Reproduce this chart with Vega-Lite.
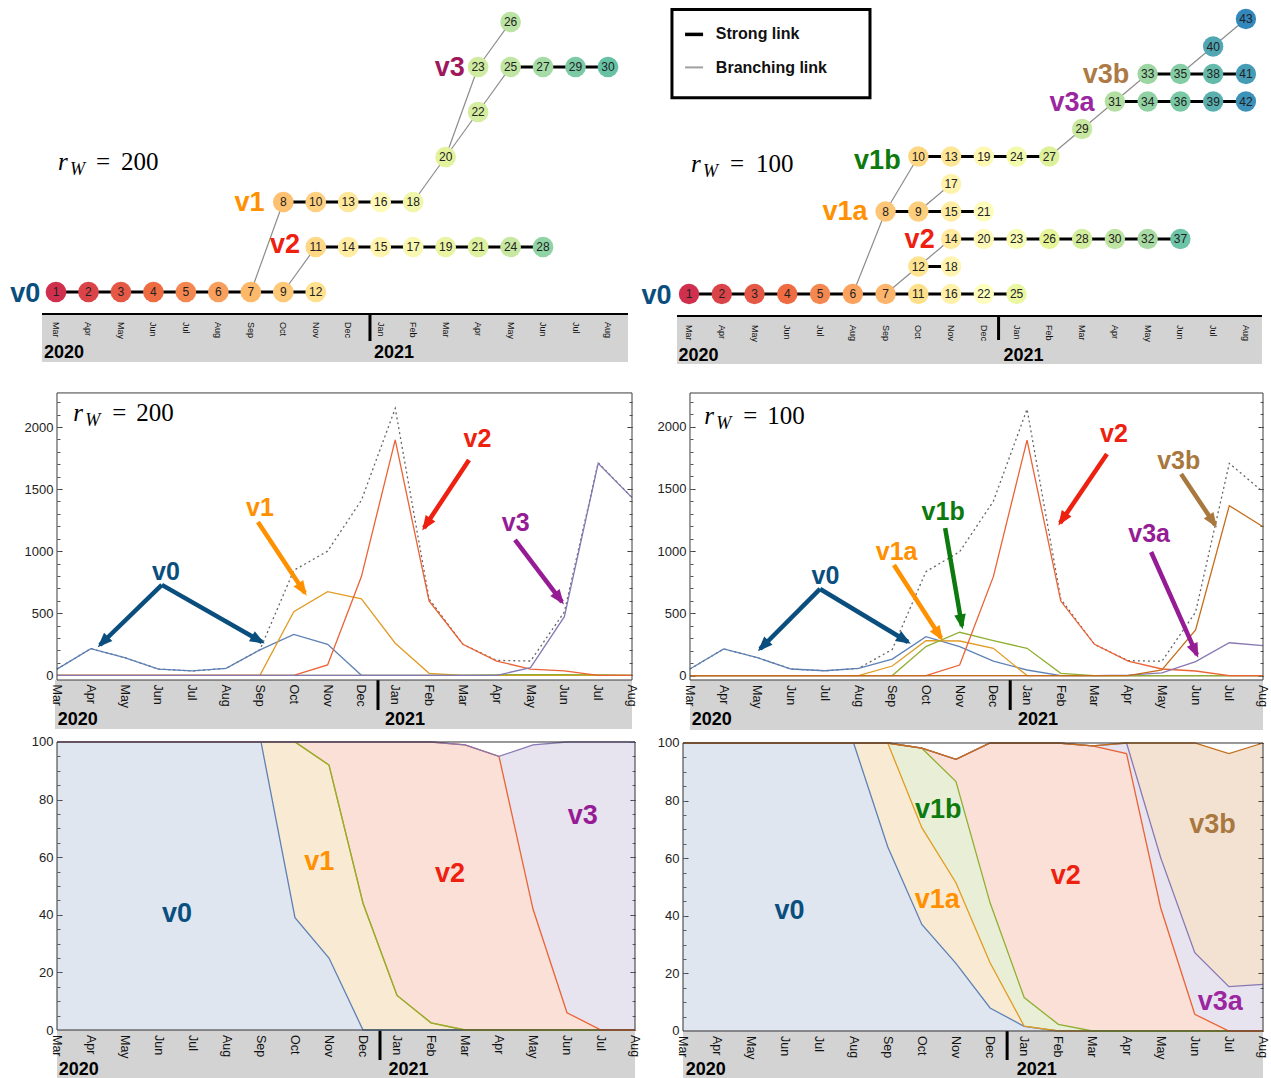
{
"$schema":"https://vega.github.io/schema/vega-lite/v6.json",
"padding":0,
"background":"white",
"config":{"view":{"stroke":null},"legend":{"disable":true},"text":{"font":"Liberation Sans"},"axis":{"labelFont":"Liberation Sans","grid":false}},
"datasets":{
"months":[{"m":0,"lab":"Mar"},{"m":1,"lab":"Apr"},{"m":2,"lab":"May"},{"m":3,"lab":"Jun"},{"m":4,"lab":"Jul"},{"m":5,"lab":"Aug"},{"m":6,"lab":"Sep"},{"m":7,"lab":"Oct"},{"m":8,"lab":"Nov"},{"m":9,"lab":"Dec"},{"m":10,"lab":"Jan"},{"m":11,"lab":"Feb"},{"m":12,"lab":"Mar"},{"m":13,"lab":"Apr"},{"m":14,"lab":"May"},{"m":15,"lab":"Jun"},{"m":16,"lab":"Jul"},{"m":17,"lab":"Aug"}],
"nl_nodes":[{"id":1,"m":0,"r":0},{"id":2,"m":1,"r":0},{"id":3,"m":2,"r":0},{"id":4,"m":3,"r":0},{"id":5,"m":4,"r":0},{"id":6,"m":5,"r":0},{"id":7,"m":6,"r":0},{"id":9,"m":7,"r":0},{"id":12,"m":8,"r":0},{"id":11,"m":8,"r":1},{"id":14,"m":9,"r":1},{"id":15,"m":10,"r":1},{"id":17,"m":11,"r":1},{"id":19,"m":12,"r":1},{"id":21,"m":13,"r":1},{"id":24,"m":14,"r":1},{"id":28,"m":15,"r":1},{"id":8,"m":7,"r":2},{"id":10,"m":8,"r":2},{"id":13,"m":9,"r":2},{"id":16,"m":10,"r":2},{"id":18,"m":11,"r":2},{"id":20,"m":12,"r":3},{"id":22,"m":13,"r":4},{"id":23,"m":13,"r":5},{"id":25,"m":14,"r":5},{"id":27,"m":15,"r":5},{"id":29,"m":16,"r":5},{"id":30,"m":17,"r":5},{"id":26,"m":14,"r":6}],
"nl_edges":[{"a":1,"b":2,"k":"strong"},{"a":2,"b":3,"k":"strong"},{"a":3,"b":4,"k":"strong"},{"a":4,"b":5,"k":"strong"},{"a":5,"b":6,"k":"strong"},{"a":6,"b":7,"k":"strong"},{"a":7,"b":9,"k":"strong"},{"a":9,"b":12,"k":"strong"},{"a":11,"b":14,"k":"strong"},{"a":14,"b":15,"k":"strong"},{"a":15,"b":17,"k":"strong"},{"a":17,"b":19,"k":"strong"},{"a":19,"b":21,"k":"strong"},{"a":21,"b":24,"k":"strong"},{"a":24,"b":28,"k":"strong"},{"a":8,"b":10,"k":"strong"},{"a":10,"b":13,"k":"strong"},{"a":13,"b":16,"k":"strong"},{"a":16,"b":18,"k":"strong"},{"a":25,"b":27,"k":"strong"},{"a":27,"b":29,"k":"strong"},{"a":29,"b":30,"k":"strong"},{"a":7,"b":8,"k":"branch"},{"a":9,"b":11,"k":"branch"},{"a":18,"b":20,"k":"branch"},{"a":20,"b":23,"k":"branch"},{"a":20,"b":22,"k":"branch"},{"a":22,"b":25,"k":"branch"},{"a":23,"b":26,"k":"branch"}],
"nl_lab":[{"t":"v0","m":-0.95,"r":-0.22},{"t":"v1","m":5.96,"r":1.8},{"t":"v2","m":7.05,"r":0.87},{"t":"v3","m":12.13,"r":4.8}],
"nr_nodes":[{"id":1,"m":0,"r":0},{"id":2,"m":1,"r":0},{"id":3,"m":2,"r":0},{"id":4,"m":3,"r":0},{"id":5,"m":4,"r":0},{"id":6,"m":5,"r":0},{"id":7,"m":6,"r":0},{"id":11,"m":7,"r":0},{"id":16,"m":8,"r":0},{"id":22,"m":9,"r":0},{"id":25,"m":10,"r":0},{"id":12,"m":7,"r":1},{"id":18,"m":8,"r":1},{"id":14,"m":8,"r":2},{"id":20,"m":9,"r":2},{"id":23,"m":10,"r":2},{"id":26,"m":11,"r":2},{"id":28,"m":12,"r":2},{"id":30,"m":13,"r":2},{"id":32,"m":14,"r":2},{"id":37,"m":15,"r":2},{"id":8,"m":6,"r":3},{"id":9,"m":7,"r":3},{"id":15,"m":8,"r":3},{"id":21,"m":9,"r":3},{"id":17,"m":8,"r":4},{"id":10,"m":7,"r":5},{"id":13,"m":8,"r":5},{"id":19,"m":9,"r":5},{"id":24,"m":10,"r":5},{"id":27,"m":11,"r":5},{"id":29,"m":12,"r":6},{"id":31,"m":13,"r":7},{"id":34,"m":14,"r":7},{"id":36,"m":15,"r":7},{"id":39,"m":16,"r":7},{"id":42,"m":17,"r":7},{"id":33,"m":14,"r":8},{"id":35,"m":15,"r":8},{"id":38,"m":16,"r":8},{"id":41,"m":17,"r":8},{"id":40,"m":16,"r":9},{"id":43,"m":17,"r":10}],
"nr_edges":[{"a":1,"b":2,"k":"strong"},{"a":2,"b":3,"k":"strong"},{"a":3,"b":4,"k":"strong"},{"a":4,"b":5,"k":"strong"},{"a":5,"b":6,"k":"strong"},{"a":6,"b":7,"k":"strong"},{"a":7,"b":11,"k":"strong"},{"a":11,"b":16,"k":"strong"},{"a":16,"b":22,"k":"strong"},{"a":22,"b":25,"k":"strong"},{"a":12,"b":18,"k":"strong"},{"a":14,"b":20,"k":"strong"},{"a":20,"b":23,"k":"strong"},{"a":23,"b":26,"k":"strong"},{"a":26,"b":28,"k":"strong"},{"a":28,"b":30,"k":"strong"},{"a":30,"b":32,"k":"strong"},{"a":32,"b":37,"k":"strong"},{"a":8,"b":9,"k":"strong"},{"a":9,"b":15,"k":"strong"},{"a":15,"b":21,"k":"strong"},{"a":10,"b":13,"k":"strong"},{"a":13,"b":19,"k":"strong"},{"a":19,"b":24,"k":"strong"},{"a":24,"b":27,"k":"strong"},{"a":31,"b":34,"k":"strong"},{"a":34,"b":36,"k":"strong"},{"a":36,"b":39,"k":"strong"},{"a":39,"b":42,"k":"strong"},{"a":33,"b":35,"k":"strong"},{"a":35,"b":38,"k":"strong"},{"a":38,"b":41,"k":"strong"},{"a":6,"b":8,"k":"branch"},{"a":8,"b":10,"k":"branch"},{"a":7,"b":12,"k":"branch"},{"a":12,"b":14,"k":"branch"},{"a":9,"b":17,"k":"branch"},{"a":27,"b":29,"k":"branch"},{"a":29,"b":31,"k":"branch"},{"a":31,"b":33,"k":"branch"},{"a":35,"b":40,"k":"branch"},{"a":40,"b":43,"k":"branch"}],
"nr_lab":[{"t":"v0","m":-0.99,"r":-0.36},{"t":"v1a","m":4.76,"r":2.69},{"t":"v1b","m":5.75,"r":4.55},{"t":"v2","m":7.04,"r":1.67},{"t":"v3a","m":11.69,"r":6.65},{"t":"v3b","m":12.73,"r":7.67}],
"ml":[{"s":"v0","m":0,"v":50},{"s":"v0","m":1,"v":215},{"s":"v0","m":2,"v":142},{"s":"v0","m":3,"v":50},{"s":"v0","m":4,"v":35},{"s":"v0","m":5,"v":56},{"s":"v0","m":6,"v":205},{"s":"v0","m":7,"v":330},{"s":"v0","m":8,"v":250},{"s":"v0","m":9,"v":0},{"s":"v0","m":10,"v":0},{"s":"v0","m":11,"v":0},{"s":"v0","m":12,"v":0},{"s":"v0","m":13,"v":0},{"s":"v0","m":14,"v":0},{"s":"v0","m":15,"v":0},{"s":"v0","m":16,"v":0},{"s":"v0","m":17,"v":0},
{"s":"v1","m":0,"v":0},{"s":"v1","m":1,"v":0},{"s":"v1","m":2,"v":0},{"s":"v1","m":3,"v":0},{"s":"v1","m":4,"v":0},{"s":"v1","m":5,"v":0},{"s":"v1","m":6,"v":0},{"s":"v1","m":7,"v":512},{"s":"v1","m":8,"v":674},{"s":"v1","m":9,"v":615},{"s":"v1","m":10,"v":258},{"s":"v1","m":11,"v":16},{"s":"v1","m":12,"v":0},{"s":"v1","m":13,"v":0},{"s":"v1","m":14,"v":0},{"s":"v1","m":15,"v":0},{"s":"v1","m":16,"v":0},{"s":"v1","m":17,"v":0},
{"s":"v1x","m":0,"v":0},{"s":"v1x","m":1,"v":0},{"s":"v1x","m":2,"v":0},{"s":"v1x","m":3,"v":0},{"s":"v1x","m":4,"v":0},{"s":"v1x","m":5,"v":0},{"s":"v1x","m":6,"v":0},{"s":"v1x","m":7,"v":0},{"s":"v1x","m":8,"v":0},{"s":"v1x","m":9,"v":0},{"s":"v1x","m":10,"v":0},{"s":"v1x","m":11,"v":0},{"s":"v1x","m":12,"v":0},{"s":"v1x","m":13,"v":4},{"s":"v1x","m":14,"v":6},{"s":"v1x","m":15,"v":6},{"s":"v1x","m":16,"v":4},{"s":"v1x","m":17,"v":0},
{"s":"v2","m":0,"v":0},{"s":"v2","m":1,"v":0},{"s":"v2","m":2,"v":0},{"s":"v2","m":3,"v":0},{"s":"v2","m":4,"v":0},{"s":"v2","m":5,"v":0},{"s":"v2","m":6,"v":0},{"s":"v2","m":7,"v":0},{"s":"v2","m":8,"v":83},{"s":"v2","m":9,"v":795},{"s":"v2","m":10,"v":1896},{"s":"v2","m":11,"v":599},{"s":"v2","m":12,"v":250},{"s":"v2","m":13,"v":115},{"s":"v2","m":14,"v":50},{"s":"v2","m":15,"v":35},{"s":"v2","m":16,"v":0},{"s":"v2","m":17,"v":0},
{"s":"v3","m":0,"v":0},{"s":"v3","m":1,"v":0},{"s":"v3","m":2,"v":0},{"s":"v3","m":3,"v":0},{"s":"v3","m":4,"v":0},{"s":"v3","m":5,"v":0},{"s":"v3","m":6,"v":0},{"s":"v3","m":7,"v":0},{"s":"v3","m":8,"v":0},{"s":"v3","m":9,"v":0},{"s":"v3","m":10,"v":0},{"s":"v3","m":11,"v":0},{"s":"v3","m":12,"v":0},{"s":"v3","m":13,"v":0},{"s":"v3","m":14,"v":61},{"s":"v3","m":15,"v":472},{"s":"v3","m":16,"v":1708},{"s":"v3","m":17,"v":1431}],
"ml_tot":[{"m":0,"v":50},{"m":1,"v":215},{"m":2,"v":142},{"m":3,"v":50},{"m":4,"v":35},{"m":5,"v":56},{"m":6,"v":205},{"m":7,"v":845},{"m":8,"v":1000},{"m":9,"v":1410},{"m":10,"v":2150},{"m":11,"v":615},{"m":12,"v":250},{"m":13,"v":120},{"m":14,"v":115},{"m":15,"v":510},{"m":16,"v":1712},{"m":17,"v":1431}],
"ml_arr":[{"t":"v0","ma":3.1,"va":728,"mb":1.27,"vb":244,"dir":225},{"t":"v0","ma":3.1,"va":728,"mb":6.06,"vb":268,"dir":120},{"t":"v1","ma":5.94,"va":1235,"mb":7.33,"vb":663,"dir":146},{"t":"v2","ma":12.18,"va":1735,"mb":10.85,"vb":1187,"dir":214},{"t":"v3","ma":13.54,"va":1090,"mb":14.93,"vb":591,"dir":143}],
"ml_lab":[{"t":"v0","m":3.22,"v":768},{"t":"v1","m":6.0,"v":1284},{"t":"v2","m":12.43,"v":1840},{"t":"v3","m":13.56,"v":1163}],
"mr":[{"s":"v0","m":0,"v":53},{"s":"v0","m":1,"v":214},{"s":"v0","m":2,"v":144},{"s":"v0","m":3,"v":53},{"s":"v0","m":4,"v":39},{"s":"v0","m":5,"v":58},{"s":"v0","m":6,"v":133},{"s":"v0","m":7,"v":313},{"s":"v0","m":8,"v":233},{"s":"v0","m":9,"v":117},{"s":"v0","m":10,"v":45},{"s":"v0","m":11,"v":0},{"s":"v0","m":12,"v":0},{"s":"v0","m":13,"v":0},{"s":"v0","m":14,"v":0},{"s":"v0","m":15,"v":0},{"s":"v0","m":16,"v":0},{"s":"v0","m":17,"v":0},
{"s":"v1a","m":0,"v":0},{"s":"v1a","m":1,"v":0},{"s":"v1a","m":2,"v":0},{"s":"v1a","m":3,"v":0},{"s":"v1a","m":4,"v":0},{"s":"v1a","m":5,"v":0},{"s":"v1a","m":6,"v":77},{"s":"v1a","m":7,"v":281},{"s":"v1a","m":8,"v":278},{"s":"v1a","m":9,"v":219},{"s":"v1a","m":10,"v":0},{"s":"v1a","m":11,"v":0},{"s":"v1a","m":12,"v":0},{"s":"v1a","m":13,"v":0},{"s":"v1a","m":14,"v":0},{"s":"v1a","m":15,"v":0},{"s":"v1a","m":16,"v":0},{"s":"v1a","m":17,"v":0},
{"s":"v1b","m":0,"v":0},{"s":"v1b","m":1,"v":0},{"s":"v1b","m":2,"v":0},{"s":"v1b","m":3,"v":0},{"s":"v1b","m":4,"v":0},{"s":"v1b","m":5,"v":0},{"s":"v1b","m":6,"v":0},{"s":"v1b","m":7,"v":233},{"s":"v1b","m":8,"v":348},{"s":"v1b","m":9,"v":281},{"s":"v1b","m":10,"v":219},{"s":"v1b","m":11,"v":18},{"s":"v1b","m":12,"v":0},{"s":"v1b","m":13,"v":0},{"s":"v1b","m":14,"v":0},{"s":"v1b","m":15,"v":0},{"s":"v1b","m":16,"v":0},{"s":"v1b","m":17,"v":0},
{"s":"v2","m":0,"v":0},{"s":"v2","m":1,"v":0},{"s":"v2","m":2,"v":0},{"s":"v2","m":3,"v":0},{"s":"v2","m":4,"v":0},{"s":"v2","m":5,"v":0},{"s":"v2","m":6,"v":0},{"s":"v2","m":7,"v":0},{"s":"v2","m":8,"v":85},{"s":"v2","m":9,"v":795},{"s":"v2","m":10,"v":1892},{"s":"v2","m":11,"v":599},{"s":"v2","m":12,"v":251},{"s":"v2","m":13,"v":117},{"s":"v2","m":14,"v":53},{"s":"v2","m":15,"v":37},{"s":"v2","m":16,"v":0},{"s":"v2","m":17,"v":0},
{"s":"v3a","m":0,"v":0},{"s":"v3a","m":1,"v":0},{"s":"v3a","m":2,"v":0},{"s":"v3a","m":3,"v":0},{"s":"v3a","m":4,"v":0},{"s":"v3a","m":5,"v":0},{"s":"v3a","m":6,"v":0},{"s":"v3a","m":7,"v":0},{"s":"v3a","m":8,"v":0},{"s":"v3a","m":9,"v":0},{"s":"v3a","m":10,"v":0},{"s":"v3a","m":11,"v":0},{"s":"v3a","m":12,"v":0},{"s":"v3a","m":13,"v":4},{"s":"v3a","m":14,"v":22},{"s":"v3a","m":15,"v":112},{"s":"v3a","m":16,"v":264},{"s":"v3a","m":17,"v":240},
{"s":"v3b","m":0,"v":0},{"s":"v3b","m":1,"v":0},{"s":"v3b","m":2,"v":0},{"s":"v3b","m":3,"v":0},{"s":"v3b","m":4,"v":0},{"s":"v3b","m":5,"v":0},{"s":"v3b","m":6,"v":0},{"s":"v3b","m":7,"v":0},{"s":"v3b","m":8,"v":0},{"s":"v3b","m":9,"v":0},{"s":"v3b","m":10,"v":0},{"s":"v3b","m":11,"v":0},{"s":"v3b","m":12,"v":0},{"s":"v3b","m":13,"v":0},{"s":"v3b","m":14,"v":45},{"s":"v3b","m":15,"v":366},{"s":"v3b","m":16,"v":1365},{"s":"v3b","m":17,"v":1196}],
"mr_tot":[{"m":0,"v":53},{"m":1,"v":214},{"m":2,"v":144},{"m":3,"v":53},{"m":4,"v":39},{"m":5,"v":58},{"m":6,"v":210},{"m":7,"v":835},{"m":8,"v":995},{"m":9,"v":1400},{"m":10,"v":2140},{"m":11,"v":615},{"m":12,"v":251},{"m":13,"v":120},{"m":14,"v":115},{"m":15,"v":510},{"m":16,"v":1705},{"m":17,"v":1475}],
"mr_arr":[{"t":"v0","ma":3.86,"va":696,"mb":2.08,"vb":214,"dir":225},{"t":"v0","ma":3.86,"va":696,"mb":6.47,"vb":270,"dir":121},{"t":"v1a","ma":6.05,"va":888,"mb":7.45,"vb":302,"dir":147},{"t":"v1b","ma":7.57,"va":1185,"mb":8.07,"vb":398,"dir":170},{"t":"v2","ma":12.37,"va":1780,"mb":10.98,"vb":1226,"dir":214},{"t":"v3b","ma":14.57,"va":1619,"mb":15.58,"vb":1210,"dir":146},{"t":"v3a","ma":13.68,"va":993,"mb":15.04,"vb":166,"dir":156}],
"mr_lab":[{"t":"v0","m":4.02,"v":736},{"t":"v1a","m":6.13,"v":929},{"t":"v1b","m":7.51,"v":1250},{"t":"v2","m":12.58,"v":1876},{"t":"v3b","m":14.5,"v":1659},{"t":"v3a","m":13.62,"v":1073}],
"bl":[{"s":"v0","m":0,"v":100},{"s":"v0","m":1,"v":100},{"s":"v0","m":2,"v":100},{"s":"v0","m":3,"v":100},{"s":"v0","m":4,"v":100},{"s":"v0","m":5,"v":100},{"s":"v0","m":6,"v":100},{"s":"v0","m":7,"v":39},{"s":"v0","m":8,"v":25},{"s":"v0","m":9,"v":0},{"s":"v0","m":10,"v":0},{"s":"v0","m":11,"v":0},{"s":"v0","m":12,"v":0},{"s":"v0","m":13,"v":0},{"s":"v0","m":14,"v":0},{"s":"v0","m":15,"v":0},{"s":"v0","m":16,"v":0},{"s":"v0","m":17,"v":0},
{"s":"v1","m":0,"v":0},{"s":"v1","m":1,"v":0},{"s":"v1","m":2,"v":0},{"s":"v1","m":3,"v":0},{"s":"v1","m":4,"v":0},{"s":"v1","m":5,"v":0},{"s":"v1","m":6,"v":0},{"s":"v1","m":7,"v":61},{"s":"v1","m":8,"v":67},{"s":"v1","m":9,"v":44},{"s":"v1","m":10,"v":12},{"s":"v1","m":11,"v":2.5},{"s":"v1","m":12,"v":0},{"s":"v1","m":13,"v":0},{"s":"v1","m":14,"v":0},{"s":"v1","m":15,"v":0},{"s":"v1","m":16,"v":0},{"s":"v1","m":17,"v":0},
{"s":"v1x","m":0,"v":0},{"s":"v1x","m":1,"v":0},{"s":"v1x","m":2,"v":0},{"s":"v1x","m":3,"v":0},{"s":"v1x","m":4,"v":0},{"s":"v1x","m":5,"v":0},{"s":"v1x","m":6,"v":0},{"s":"v1x","m":7,"v":0},{"s":"v1x","m":8,"v":0},{"s":"v1x","m":9,"v":0},{"s":"v1x","m":10,"v":0},{"s":"v1x","m":11,"v":0},{"s":"v1x","m":12,"v":0},{"s":"v1x","m":13,"v":0},{"s":"v1x","m":14,"v":0},{"s":"v1x","m":15,"v":0},{"s":"v1x","m":16,"v":0},{"s":"v1x","m":17,"v":0},
{"s":"v2","m":0,"v":0},{"s":"v2","m":1,"v":0},{"s":"v2","m":2,"v":0},{"s":"v2","m":3,"v":0},{"s":"v2","m":4,"v":0},{"s":"v2","m":5,"v":0},{"s":"v2","m":6,"v":0},{"s":"v2","m":7,"v":0},{"s":"v2","m":8,"v":8},{"s":"v2","m":9,"v":56},{"s":"v2","m":10,"v":88},{"s":"v2","m":11,"v":97.5},{"s":"v2","m":12,"v":99},{"s":"v2","m":13,"v":95},{"s":"v2","m":14,"v":42},{"s":"v2","m":15,"v":6},{"s":"v2","m":16,"v":0},{"s":"v2","m":17,"v":0},
{"s":"v3","m":0,"v":0},{"s":"v3","m":1,"v":0},{"s":"v3","m":2,"v":0},{"s":"v3","m":3,"v":0},{"s":"v3","m":4,"v":0},{"s":"v3","m":5,"v":0},{"s":"v3","m":6,"v":0},{"s":"v3","m":7,"v":0},{"s":"v3","m":8,"v":0},{"s":"v3","m":9,"v":0},{"s":"v3","m":10,"v":0},{"s":"v3","m":11,"v":0},{"s":"v3","m":12,"v":0},{"s":"v3","m":13,"v":0},{"s":"v3","m":14,"v":57},{"s":"v3","m":15,"v":94},{"s":"v3","m":16,"v":100},{"s":"v3","m":17,"v":100}],
"bl_lab":[{"t":"v0","m":3.53,"v":37.5},{"t":"v1","m":7.71,"v":55.6},{"t":"v2","m":11.56,"v":51.4},{"t":"v3","m":15.46,"v":71.6}],
"br":[{"s":"v0","m":0,"v":100},{"s":"v0","m":1,"v":100},{"s":"v0","m":2,"v":100},{"s":"v0","m":3,"v":100},{"s":"v0","m":4,"v":100},{"s":"v0","m":5,"v":100},{"s":"v0","m":6,"v":64},{"s":"v0","m":7,"v":37},{"s":"v0","m":8,"v":23.5},{"s":"v0","m":9,"v":8},{"s":"v0","m":10,"v":1.6},{"s":"v0","m":11,"v":0},{"s":"v0","m":12,"v":0},{"s":"v0","m":13,"v":0},{"s":"v0","m":14,"v":0},{"s":"v0","m":15,"v":0},{"s":"v0","m":16,"v":0},{"s":"v0","m":17,"v":0},
{"s":"v1a","m":0,"v":0},{"s":"v1a","m":1,"v":0},{"s":"v1a","m":2,"v":0},{"s":"v1a","m":3,"v":0},{"s":"v1a","m":4,"v":0},{"s":"v1a","m":5,"v":0},{"s":"v1a","m":6,"v":36},{"s":"v1a","m":7,"v":33.6},{"s":"v1a","m":8,"v":28},{"s":"v1a","m":9,"v":15.7},{"s":"v1a","m":10,"v":0.1},{"s":"v1a","m":11,"v":0},{"s":"v1a","m":12,"v":0},{"s":"v1a","m":13,"v":0},{"s":"v1a","m":14,"v":0},{"s":"v1a","m":15,"v":0},{"s":"v1a","m":16,"v":0},{"s":"v1a","m":17,"v":0},
{"s":"v1b","m":0,"v":0},{"s":"v1b","m":1,"v":0},{"s":"v1b","m":2,"v":0},{"s":"v1b","m":3,"v":0},{"s":"v1b","m":4,"v":0},{"s":"v1b","m":5,"v":0},{"s":"v1b","m":6,"v":0},{"s":"v1b","m":7,"v":27.6},{"s":"v1b","m":8,"v":35.1},{"s":"v1b","m":9,"v":20.8},{"s":"v1b","m":10,"v":9.9},{"s":"v1b","m":11,"v":2.3},{"s":"v1b","m":12,"v":0},{"s":"v1b","m":13,"v":0},{"s":"v1b","m":14,"v":0},{"s":"v1b","m":15,"v":0},{"s":"v1b","m":16,"v":0},{"s":"v1b","m":17,"v":0},
{"s":"v2","m":0,"v":0},{"s":"v2","m":1,"v":0},{"s":"v2","m":2,"v":0},{"s":"v2","m":3,"v":0},{"s":"v2","m":4,"v":0},{"s":"v2","m":5,"v":0},{"s":"v2","m":6,"v":0},{"s":"v2","m":7,"v":0},{"s":"v2","m":8,"v":7.7},{"s":"v2","m":9,"v":55.5},{"s":"v2","m":10,"v":88.4},{"s":"v2","m":11,"v":97.7},{"s":"v2","m":12,"v":99},{"s":"v2","m":13,"v":96.3},{"s":"v2","m":14,"v":42.8},{"s":"v2","m":15,"v":5.8},{"s":"v2","m":16,"v":0},{"s":"v2","m":17,"v":0},
{"s":"v3a","m":0,"v":0},{"s":"v3a","m":1,"v":0},{"s":"v3a","m":2,"v":0},{"s":"v3a","m":3,"v":0},{"s":"v3a","m":4,"v":0},{"s":"v3a","m":5,"v":0},{"s":"v3a","m":6,"v":0},{"s":"v3a","m":7,"v":0},{"s":"v3a","m":8,"v":0},{"s":"v3a","m":9,"v":0},{"s":"v3a","m":10,"v":0},{"s":"v3a","m":11,"v":0},{"s":"v3a","m":12,"v":0},{"s":"v3a","m":13,"v":3.7},{"s":"v3a","m":14,"v":17.4},{"s":"v3a","m":15,"v":21.4},{"s":"v3a","m":16,"v":15.4},{"s":"v3a","m":17,"v":16.2},
{"s":"v3b","m":0,"v":0},{"s":"v3b","m":1,"v":0},{"s":"v3b","m":2,"v":0},{"s":"v3b","m":3,"v":0},{"s":"v3b","m":4,"v":0},{"s":"v3b","m":5,"v":0},{"s":"v3b","m":6,"v":0},{"s":"v3b","m":7,"v":0},{"s":"v3b","m":8,"v":0},{"s":"v3b","m":9,"v":0},{"s":"v3b","m":10,"v":0},{"s":"v3b","m":11,"v":0},{"s":"v3b","m":12,"v":0},{"s":"v3b","m":13,"v":0},{"s":"v3b","m":14,"v":39.8},{"s":"v3b","m":15,"v":72.8},{"s":"v3b","m":16,"v":80.9},{"s":"v3b","m":17,"v":83.8}],
"br_lab":[{"t":"v0","m":3.12,"v":38.9},{"t":"v1b","m":7.48,"v":74},{"t":"v1a","m":7.45,"v":42.8},{"t":"v2","m":11.22,"v":51},{"t":"v3b","m":15.52,"v":68.9},{"t":"v3a","m":15.75,"v":7.3}]
},
"spacing":0,
"resolve":{"scale":{"color":"independent","fill":"independent","stroke":"independent","angle":"independent"}},
"vconcat":[
{"hconcat":[
 {"width":650,"height":378,
  "layer":[
   {"data":{"values":[{}]},"mark":{"type":"rect","color":"#d3d3d3"},"encoding":{"x":{"datum":-0.431,"scale":{"domain":[-1.7246,18.294],"nice":false,"zero":false},"axis":null},"x2":{"datum":17.616},"y":{"datum":-0.489,"scale":{"domain":[-1.911,6.489],"nice":false,"zero":false},"axis":null},"y2":{"datum":-1.556}}},
   {"data":{"values":[{}]},"mark":{"type":"rule","color":"#000000","strokeWidth":2},"encoding":{"x":{"datum":-0.431},"x2":{"datum":17.616},"y":{"datum":-0.489}}},
   {"data":{"name":"months"},"mark":{"type":"text","angle":90,"align":"left","baseline":"middle","fontSize":9,"color":"#111111"},"encoding":{"x":{"field":"m","type":"quantitative"},"y":{"datum":-0.667},"text":{"field":"lab"}}},
   {"data":{"values":[{}]},"mark":{"type":"rule","color":"#000000","strokeWidth":3},"encoding":{"x":{"datum":9.67},"y":{"datum":-0.489},"y2":{"datum":-1.089}}},
   {"data":{"values":[{}]},"mark":{"type":"text","fontSize":18,"fontWeight":"bold","align":"left","baseline":"alphabetic","text":"2020"},"encoding":{"x":{"datum":-0.37},"y":{"datum":-1.467}}},
   {"data":{"values":[{}]},"mark":{"type":"text","fontSize":18,"fontWeight":"bold","align":"left","baseline":"alphabetic","text":"2021"},"encoding":{"x":{"datum":9.79},"y":{"datum":-1.467}}},
   {"data":{"name":"nl_edges"},"transform":[{"filter":"datum.k=='branch'"},{"lookup":"a","from":{"data":{"name":"nl_nodes"},"key":"id","fields":["m","r"]},"as":["m1","r1"]},{"lookup":"b","from":{"data":{"name":"nl_nodes"},"key":"id","fields":["m","r"]},"as":["m2","r2"]}],
    "mark":{"type":"rule","color":"#8c8c8c","strokeWidth":1.2},
    "encoding":{"x":{"field":"m1","type":"quantitative"},"y":{"field":"r1","type":"quantitative"},"x2":{"field":"m2"},"y2":{"field":"r2"}}},
   {"data":{"name":"nl_edges"},"transform":[{"filter":"datum.k=='strong'"},{"lookup":"a","from":{"data":{"name":"nl_nodes"},"key":"id","fields":["m","r"]},"as":["m1","r1"]},{"lookup":"b","from":{"data":{"name":"nl_nodes"},"key":"id","fields":["m","r"]},"as":["m2","r2"]}],
    "mark":{"type":"rule","color":"#000000","strokeWidth":3},
    "encoding":{"x":{"field":"m1","type":"quantitative"},"y":{"field":"r1","type":"quantitative"},"x2":{"field":"m2"},"y2":{"field":"r2"}}},
   {"data":{"name":"nl_nodes"},"mark":{"type":"circle","size":430,"opacity":1},
    "encoding":{"x":{"field":"m","type":"quantitative"},"y":{"field":"r","type":"quantitative"},"fill":{"field":"id","type":"quantitative","scale":{"domain":[1,4,7,12,16,20,26,30],"range":["#d0304d","#ef6c42","#fdb96a","#fee08e","#fffab8","#e3f29c","#bae3a4","#66c2a5"],"interpolate":"rgb"}}}},
   {"data":{"name":"nl_nodes"},"mark":{"type":"text","fontSize":12,"color":"#222222"},
    "encoding":{"x":{"field":"m","type":"quantitative"},"y":{"field":"r","type":"quantitative"},"text":{"field":"id"}}},
   {"data":{"name":"nl_lab"},"mark":{"type":"text","fontSize":27,"fontWeight":"bold","align":"center","baseline":"alphabetic"},
    "encoding":{"x":{"field":"m","type":"quantitative"},"y":{"field":"r","type":"quantitative"},"text":{"field":"t"},"color":{"field":"t","type":"nominal","scale":{"domain":["v0","v1","v2","v3"],"range":["#0a4e7e","#ff9000","#ee2010","#a0185c"]}}}},
   {"data":{"values":[{}]},"mark":{"type":"text","font":"Liberation Serif","fontStyle":"italic","fontSize":25,"align":"left","baseline":"alphabetic","text":"r"},"encoding":{"x":{"datum":0.06},"y":{"datum":2.71}}},
   {"data":{"values":[{}]},"mark":{"type":"text","font":"Liberation Serif","fontStyle":"italic","fontSize":18,"align":"left","baseline":"alphabetic","text":"W","dx":12,"dy":5},"encoding":{"x":{"datum":0.06},"y":{"datum":2.71}}},
   {"data":{"values":[{}]},"mark":{"type":"text","font":"Liberation Serif","fontSize":25,"align":"left","baseline":"alphabetic","text":"=","dx":38},"encoding":{"x":{"datum":0.06},"y":{"datum":2.71}}},
   {"data":{"values":[{}]},"mark":{"type":"text","font":"Liberation Serif","fontSize":25,"align":"left","baseline":"alphabetic","text":"200","dx":63},"encoding":{"x":{"datum":0.06},"y":{"datum":2.71}}}
  ]},
 {"width":621,"height":378,
  "layer":[
   {"data":{"values":[{}]},"mark":{"type":"rect","color":"#d3d3d3"},"encoding":{"x":{"datum":-0.366,"scale":{"domain":[-1.1905,17.766],"nice":false,"zero":false},"axis":null},"x2":{"datum":17.49},"y":{"datum":-0.8,"scale":{"domain":[-3.0545,10.691],"nice":false,"zero":false},"axis":null},"y2":{"datum":-2.545}}},
   {"data":{"values":[{}]},"mark":{"type":"rule","color":"#000000","strokeWidth":2},"encoding":{"x":{"datum":-0.366},"x2":{"datum":17.49},"y":{"datum":-0.8}}},
   {"data":{"name":"months"},"mark":{"type":"text","angle":90,"align":"left","baseline":"middle","fontSize":9,"color":"#111111"},"encoding":{"x":{"field":"m","type":"quantitative"},"y":{"datum":-1.127},"text":{"field":"lab"}}},
   {"data":{"values":[{}]},"mark":{"type":"rule","color":"#000000","strokeWidth":3},"encoding":{"x":{"datum":9.45},"y":{"datum":-0.8},"y2":{"datum":-1.673}}},
   {"data":{"values":[{}]},"mark":{"type":"text","fontSize":18,"fontWeight":"bold","align":"left","baseline":"alphabetic","text":"2020"},"encoding":{"x":{"datum":-0.32},"y":{"datum":-2.436}}},
   {"data":{"values":[{}]},"mark":{"type":"text","fontSize":18,"fontWeight":"bold","align":"left","baseline":"alphabetic","text":"2021"},"encoding":{"x":{"datum":9.6},"y":{"datum":-2.436}}},
   {"data":{"name":"nr_edges"},"transform":[{"filter":"datum.k=='branch'"},{"lookup":"a","from":{"data":{"name":"nr_nodes"},"key":"id","fields":["m","r"]},"as":["m1","r1"]},{"lookup":"b","from":{"data":{"name":"nr_nodes"},"key":"id","fields":["m","r"]},"as":["m2","r2"]}],
    "mark":{"type":"rule","color":"#8c8c8c","strokeWidth":1.2},
    "encoding":{"x":{"field":"m1","type":"quantitative"},"y":{"field":"r1","type":"quantitative"},"x2":{"field":"m2"},"y2":{"field":"r2"}}},
   {"data":{"name":"nr_edges"},"transform":[{"filter":"datum.k=='strong'"},{"lookup":"a","from":{"data":{"name":"nr_nodes"},"key":"id","fields":["m","r"]},"as":["m1","r1"]},{"lookup":"b","from":{"data":{"name":"nr_nodes"},"key":"id","fields":["m","r"]},"as":["m2","r2"]}],
    "mark":{"type":"rule","color":"#000000","strokeWidth":3},
    "encoding":{"x":{"field":"m1","type":"quantitative"},"y":{"field":"r1","type":"quantitative"},"x2":{"field":"m2"},"y2":{"field":"r2"}}},
   {"data":{"name":"nr_nodes"},"mark":{"type":"circle","size":415,"opacity":1},
    "encoding":{"x":{"field":"m","type":"quantitative"},"y":{"field":"r","type":"quantitative"},"fill":{"field":"id","type":"quantitative","scale":{"domain":[1,4,6,8,11,16,22,26,31,37,43],"range":["#d0304d","#ef6c42","#fba35e","#fdc676","#fee08b","#fff0aa","#fefebe","#e6f598","#b3e0a2","#6ec4a6","#3288bd"],"interpolate":"rgb"}}}},
   {"data":{"name":"nr_nodes"},"mark":{"type":"text","fontSize":12,"color":"#222222"},
    "encoding":{"x":{"field":"m","type":"quantitative"},"y":{"field":"r","type":"quantitative"},"text":{"field":"id"}}},
   {"data":{"name":"nr_lab"},"mark":{"type":"text","fontSize":27,"fontWeight":"bold","align":"center","baseline":"alphabetic"},
    "encoding":{"x":{"field":"m","type":"quantitative"},"y":{"field":"r","type":"quantitative"},"text":{"field":"t"},"color":{"field":"t","type":"nominal","scale":{"domain":["v0","v1a","v1b","v2","v3a","v3b"],"range":["#0a4e7e","#ff9000","#0d7a0d","#ee2010","#9a27a0","#ad7a45"]}}}},
   {"data":{"values":[{}]},"mark":{"type":"text","font":"Liberation Serif","fontStyle":"italic","fontSize":25,"align":"left","baseline":"alphabetic","text":"r"},"encoding":{"x":{"datum":0.06},"y":{"datum":4.44}}},
   {"data":{"values":[{}]},"mark":{"type":"text","font":"Liberation Serif","fontStyle":"italic","fontSize":18,"align":"left","baseline":"alphabetic","text":"W","dx":12,"dy":5},"encoding":{"x":{"datum":0.06},"y":{"datum":4.44}}},
   {"data":{"values":[{}]},"mark":{"type":"text","font":"Liberation Serif","fontSize":25,"align":"left","baseline":"alphabetic","text":"=","dx":39},"encoding":{"x":{"datum":0.06},"y":{"datum":4.44}}},
   {"data":{"values":[{}]},"mark":{"type":"text","font":"Liberation Serif","fontSize":25,"align":"left","baseline":"alphabetic","text":"100","dx":65},"encoding":{"x":{"datum":0.06},"y":{"datum":4.44}}},
   {"data":{"values":[{}]},"mark":{"type":"rect","filled":false,"color":"#000000","strokeWidth":3},"encoding":{"x":{"datum":-0.52},"x2":{"datum":5.525},"y":{"datum":10.35},"y2":{"datum":7.14}}},
   {"data":{"values":[{}]},"mark":{"type":"rule","color":"#000000","strokeWidth":3.5},"encoding":{"x":{"datum":-0.12},"x2":{"datum":0.43},"y":{"datum":9.44}}},
   {"data":{"values":[{}]},"mark":{"type":"rule","color":"#a0a0a0","strokeWidth":2},"encoding":{"x":{"datum":-0.12},"x2":{"datum":0.43},"y":{"datum":8.24}}},
   {"data":{"values":[{}]},"mark":{"type":"text","fontSize":16,"fontWeight":"bold","align":"left","baseline":"alphabetic","text":"Strong link","color":"#111111"},"encoding":{"x":{"datum":0.82},"y":{"datum":9.26}}},
   {"data":{"values":[{}]},"mark":{"type":"text","fontSize":16,"fontWeight":"bold","align":"left","baseline":"alphabetic","text":"Branching link","color":"#111111"},"encoding":{"x":{"datum":0.82},"y":{"datum":8.05}}}
  ]}
],"spacing":0,"bounds":"flush","resolve":{"scale":{"color":"independent","fill":"independent","stroke":"independent","angle":"independent"}}},
{"hconcat":[
 {"width":650,"height":357,
  "resolve":{"axis":{"y":"independent"}},
  "layer":[
   {"data":{"values":[{}]},"mark":{"type":"rect","color":"#d3d3d3"},"encoding":{"x":{"datum":-0.06,"scale":{"domain":[-1.6852,17.532],"nice":false,"zero":false},"axis":null},"x2":{"datum":17},"y":{"datum":-37.9,"scale":{"domain":[-480.9,2394.7],"nice":false,"zero":false},"axis":null},"y2":{"datum":-432.5}}},
   {"data":{"name":"months"},"mark":{"type":"text","angle":90,"align":"left","baseline":"middle","fontSize":12.5,"color":"#111111"},"encoding":{"x":{"field":"m","type":"quantitative","axis":null},"y":{"datum":-74.1,"axis":null},"text":{"field":"lab"}}},
   {"data":{"values":[{}]},"mark":{"type":"rule","color":"#000000","strokeWidth":3},"encoding":{"x":{"datum":9.49,"axis":null},"y":{"datum":-37.9,"axis":null},"y2":{"datum":-279.5}}},
   {"data":{"values":[{}]},"mark":{"type":"text","fontSize":18,"fontWeight":"bold","align":"left","baseline":"alphabetic","text":"2020"},"encoding":{"x":{"datum":0.02,"axis":null},"y":{"datum":-400.3,"axis":null}}},
   {"data":{"values":[{}]},"mark":{"type":"text","fontSize":18,"fontWeight":"bold","align":"left","baseline":"alphabetic","text":"2021"},"encoding":{"x":{"datum":9.7,"axis":null},"y":{"datum":-400.3,"axis":null}}},
   {"data":{"name":"ml_tot"},"mark":{"type":"line","color":"#666666","strokeWidth":1.3,"strokeDash":[2,3]},
    "encoding":{"x":{"field":"m","type":"quantitative","axis":{"orient":"bottom","offset":-55,"values":[0,1,2,3,4,5,6,7,8,9,10,11,12,13,14,15,16,17],"labels":false,"domain":false,"ticks":true,"tickSize":-5,"tickColor":"#333333","grid":false,"title":null}},
     "y":{"field":"v","type":"quantitative","axis":{"orient":"left","offset":-57,"values":[0,500,1000,1500,2000],"format":"d","ticks":false,"tickSize":0,"domain":false,"labelPadding":4,"labelFontSize":13,"labelColor":"#222222","grid":false,"title":null}}}},
   {"data":{"name":"ml"},"mark":{"type":"line","strokeWidth":1.3},
    "encoding":{"x":{"field":"m","type":"quantitative","axis":null},"y":{"field":"v","type":"quantitative","axis":{"orient":"left","offset":-57,"values":[0,500,1000,1500,2000],"labels":false,"domain":false,"tickSize":-5,"tickColor":"#333333","grid":false,"title":null}},
     "stroke":{"field":"s","type":"nominal","scale":{"domain":["v0","v1","v1x","v2","v3"],"range":["#5e81b5","#e19c24","#8fb032","#eb6235","#8778b3"]}}}},
   {"data":{"name":"ml_tot"},"mark":{"type":"point","opacity":0},"encoding":{"x":{"field":"m","type":"quantitative","axis":null},"y":{"field":"v","type":"quantitative","axis":{"orient":"left","offset":-57,"values":[0,100,200,300,400,500,600,700,800,900,1000,1100,1200,1300,1400,1500,1600,1700,1800,1900,2000,2100,2200],"labels":false,"domain":false,"tickSize":-3,"tickColor":"#555555","grid":false,"title":null}}}},
   {"data":{"name":"ml_tot"},"mark":{"type":"point","opacity":0},"encoding":{"x":{"field":"m","type":"quantitative","axis":null},"y":{"field":"v","type":"quantitative","axis":{"orient":"right","offset":-18,"values":[0,500,1000,1500,2000],"labels":false,"domain":false,"tickSize":-5,"tickColor":"#333333","grid":false,"title":null}}}},
   {"data":{"name":"ml_tot"},"mark":{"type":"point","opacity":0},"encoding":{"x":{"field":"m","type":"quantitative","axis":null},"y":{"field":"v","type":"quantitative","axis":{"orient":"right","offset":-18,"values":[0,100,200,300,400,500,600,700,800,900,1000,1100,1200,1300,1400,1500,1600,1700,1800,1900,2000,2100,2200],"labels":false,"domain":false,"tickSize":-3,"tickColor":"#555555","grid":false,"title":null}}}},
   {"data":{"values":[{}]},"mark":{"type":"rect","filled":false,"color":"#3c3c3c","strokeWidth":1},"encoding":{"x":{"datum":0,"axis":null},"x2":{"datum":17},"y":{"datum":2274.3,"axis":null},"y2":{"datum":-37.9}}},
   {"data":{"name":"ml_arr"},"mark":{"type":"rule","strokeWidth":4.5},
    "encoding":{"x":{"field":"ma","type":"quantitative","axis":null},"y":{"field":"va","type":"quantitative","axis":null},"x2":{"field":"mb"},"y2":{"field":"vb"},"color":{"field":"t","type":"nominal","scale":{"domain":["v0","v1","v2","v3"],"range":["#0a4e7e","#ff9000","#ee2010","#951c95"]}}}},
   {"data":{"name":"ml_arr"},"mark":{"type":"point","shape":"M0,-0.3L-0.55,1.1L0.55,1.1Z","size":450,"filled":true,"opacity":1},
    "encoding":{"x":{"field":"mb","type":"quantitative","axis":null},"y":{"field":"vb","type":"quantitative","axis":null},"angle":{"field":"dir","type":"quantitative","scale":{"domain":[0,360],"range":[0,360]}},"color":{"field":"t","type":"nominal","scale":{"domain":["v0","v1","v2","v3"],"range":["#0a4e7e","#ff9000","#ee2010","#951c95"]}}}},
   {"data":{"name":"ml_lab"},"mark":{"type":"text","fontSize":25,"fontWeight":"bold","align":"center","baseline":"alphabetic"},
    "encoding":{"x":{"field":"m","type":"quantitative","axis":null},"y":{"field":"v","type":"quantitative","axis":null},"text":{"field":"t"},"color":{"field":"t","type":"nominal","scale":{"domain":["v0","v1","v2","v3"],"range":["#0a4e7e","#ff9000","#ee2010","#951c95"]}}}},
   {"data":{"values":[{}]},"mark":{"type":"text","font":"Liberation Serif","fontStyle":"italic","fontSize":25,"align":"left","baseline":"alphabetic","text":"r"},"encoding":{"x":{"datum":0.48,"axis":null},"y":{"datum":2049,"axis":null}}},
   {"data":{"values":[{}]},"mark":{"type":"text","font":"Liberation Serif","fontStyle":"italic","fontSize":18,"align":"left","baseline":"alphabetic","text":"W","dx":12,"dy":5},"encoding":{"x":{"datum":0.48,"axis":null},"y":{"datum":2049,"axis":null}}},
   {"data":{"values":[{}]},"mark":{"type":"text","font":"Liberation Serif","fontSize":25,"align":"left","baseline":"alphabetic","text":"=","dx":39},"encoding":{"x":{"datum":0.48,"axis":null},"y":{"datum":2049,"axis":null}}},
   {"data":{"values":[{}]},"mark":{"type":"text","font":"Liberation Serif","fontSize":25,"align":"left","baseline":"alphabetic","text":"200","dx":63},"encoding":{"x":{"datum":0.48,"axis":null},"y":{"datum":2049,"axis":null}}}
  ]},
 {"width":621,"height":357,
  "resolve":{"axis":{"y":"independent"}},
  "layer":[
   {"data":{"values":[{}]},"mark":{"type":"rect","color":"#d3d3d3"},"encoding":{"x":{"datum":0,"scale":{"domain":[-1.1867,17.237],"nice":false,"zero":false},"axis":null},"x2":{"datum":17},"y":{"datum":-35.3,"scale":{"domain":[-477.1,2390.4],"nice":false,"zero":false},"axis":null},"y2":{"datum":-437}}},
   {"data":{"name":"months"},"mark":{"type":"text","angle":90,"align":"left","baseline":"middle","fontSize":12.5,"color":"#111111"},"encoding":{"x":{"field":"m","type":"quantitative","axis":null},"y":{"datum":-75.5,"axis":null},"text":{"field":"lab"}}},
   {"data":{"values":[{}]},"mark":{"type":"rule","color":"#000000","strokeWidth":3},"encoding":{"x":{"datum":9.5,"axis":null},"y":{"datum":-35.3,"axis":null},"y2":{"datum":-276}}},
   {"data":{"values":[{}]},"mark":{"type":"text","fontSize":18,"fontWeight":"bold","align":"left","baseline":"alphabetic","text":"2020"},"encoding":{"x":{"datum":0.05,"axis":null},"y":{"datum":-397,"axis":null}}},
   {"data":{"values":[{}]},"mark":{"type":"text","fontSize":18,"fontWeight":"bold","align":"left","baseline":"alphabetic","text":"2021"},"encoding":{"x":{"datum":9.73,"axis":null},"y":{"datum":-397,"axis":null}}},
   {"data":{"name":"mr_tot"},"mark":{"type":"line","color":"#666666","strokeWidth":1.3,"strokeDash":[2,3]},
    "encoding":{"x":{"field":"m","type":"quantitative","axis":{"orient":"bottom","offset":-55,"values":[0,1,2,3,4,5,6,7,8,9,10,11,12,13,14,15,16,17],"labels":false,"domain":false,"ticks":true,"tickSize":-5,"tickColor":"#333333","grid":false,"title":null}},
     "y":{"field":"v","type":"quantitative","axis":{"orient":"left","offset":-40,"values":[0,500,1000,1500,2000],"format":"d","ticks":false,"tickSize":0,"domain":false,"labelPadding":4,"labelFontSize":13,"labelColor":"#222222","grid":false,"title":null}}}},
   {"data":{"name":"mr"},"mark":{"type":"line","strokeWidth":1.3},
    "encoding":{"x":{"field":"m","type":"quantitative","axis":null},"y":{"field":"v","type":"quantitative","axis":{"orient":"left","offset":-40,"values":[0,500,1000,1500,2000],"labels":false,"domain":false,"tickSize":-5,"tickColor":"#333333","grid":false,"title":null}},
     "stroke":{"field":"s","type":"nominal","scale":{"domain":["v0","v1a","v1b","v2","v3a","v3b"],"range":["#5e81b5","#e19c24","#8fb032","#eb6235","#8778b3","#c56e1a"]}}}},
   {"data":{"name":"mr_tot"},"mark":{"type":"point","opacity":0},"encoding":{"x":{"field":"m","type":"quantitative","axis":null},"y":{"field":"v","type":"quantitative","axis":{"orient":"left","offset":-40,"values":[0,100,200,300,400,500,600,700,800,900,1000,1100,1200,1300,1400,1500,1600,1700,1800,1900,2000,2100,2200],"labels":false,"domain":false,"tickSize":-3,"tickColor":"#555555","grid":false,"title":null}}}},
   {"data":{"name":"mr_tot"},"mark":{"type":"point","opacity":0},"encoding":{"x":{"field":"m","type":"quantitative","axis":null},"y":{"field":"v","type":"quantitative","axis":{"orient":"right","offset":-8,"values":[0,500,1000,1500,2000],"labels":false,"domain":false,"tickSize":-5,"tickColor":"#333333","grid":false,"title":null}}}},
   {"data":{"name":"mr_tot"},"mark":{"type":"point","opacity":0},"encoding":{"x":{"field":"m","type":"quantitative","axis":null},"y":{"field":"v","type":"quantitative","axis":{"orient":"right","offset":-8,"values":[0,100,200,300,400,500,600,700,800,900,1000,1100,1200,1300,1400,1500,1600,1700,1800,1900,2000,2100,2200],"labels":false,"domain":false,"tickSize":-3,"tickColor":"#555555","grid":false,"title":null}}}},
   {"data":{"values":[{}]},"mark":{"type":"rect","filled":false,"color":"#3c3c3c","strokeWidth":1},"encoding":{"x":{"datum":0,"axis":null},"x2":{"datum":17},"y":{"datum":2269.9,"axis":null},"y2":{"datum":-35.3}}},
   {"data":{"name":"mr_arr"},"mark":{"type":"rule","strokeWidth":4.5},
    "encoding":{"x":{"field":"ma","type":"quantitative","axis":null},"y":{"field":"va","type":"quantitative","axis":null},"x2":{"field":"mb"},"y2":{"field":"vb"},"color":{"field":"t","type":"nominal","scale":{"domain":["v0","v1a","v1b","v2","v3a","v3b"],"range":["#0a4e7e","#ff9000","#0d7a0d","#ee2010","#951c95","#a8783f"]}}}},
   {"data":{"name":"mr_arr"},"mark":{"type":"point","shape":"M0,-0.3L-0.55,1.1L0.55,1.1Z","size":450,"filled":true,"opacity":1},
    "encoding":{"x":{"field":"mb","type":"quantitative","axis":null},"y":{"field":"vb","type":"quantitative","axis":null},"angle":{"field":"dir","type":"quantitative","scale":{"domain":[0,360],"range":[0,360]}},"color":{"field":"t","type":"nominal","scale":{"domain":["v0","v1a","v1b","v2","v3a","v3b"],"range":["#0a4e7e","#ff9000","#0d7a0d","#ee2010","#951c95","#a8783f"]}}}},
   {"data":{"name":"mr_lab"},"mark":{"type":"text","fontSize":25,"fontWeight":"bold","align":"center","baseline":"alphabetic"},
    "encoding":{"x":{"field":"m","type":"quantitative","axis":null},"y":{"field":"v","type":"quantitative","axis":null},"text":{"field":"t"},"color":{"field":"t","type":"nominal","scale":{"domain":["v0","v1a","v1b","v2","v3a","v3b"],"range":["#0a4e7e","#ff9000","#0d7a0d","#ee2010","#951c95","#a8783f"]}}}},
   {"data":{"values":[{}]},"mark":{"type":"text","font":"Liberation Serif","fontStyle":"italic","fontSize":25,"align":"left","baseline":"alphabetic","text":"r"},"encoding":{"x":{"datum":0.42,"axis":null},"y":{"datum":2021,"axis":null}}},
   {"data":{"values":[{}]},"mark":{"type":"text","font":"Liberation Serif","fontStyle":"italic","fontSize":18,"align":"left","baseline":"alphabetic","text":"W","dx":12,"dy":5},"encoding":{"x":{"datum":0.42,"axis":null},"y":{"datum":2021,"axis":null}}},
   {"data":{"values":[{}]},"mark":{"type":"text","font":"Liberation Serif","fontSize":25,"align":"left","baseline":"alphabetic","text":"=","dx":39},"encoding":{"x":{"datum":0.42,"axis":null},"y":{"datum":2021,"axis":null}}},
   {"data":{"values":[{}]},"mark":{"type":"text","font":"Liberation Serif","fontSize":25,"align":"left","baseline":"alphabetic","text":"100","dx":63},"encoding":{"x":{"datum":0.42,"axis":null},"y":{"datum":2021,"axis":null}}}
  ]}
],"spacing":0,"bounds":"flush","resolve":{"scale":{"color":"independent","fill":"independent","stroke":"independent","angle":"independent"}}},
{"hconcat":[
 {"width":650,"height":343,
  "resolve":{"axis":{"y":"independent"}},
  "layer":[
   {"data":{"values":[{}]},"mark":{"type":"rect","color":"#d3d3d3"},"encoding":{"x":{"datum":0,"scale":{"domain":[-1.6765,17.441],"nice":false,"zero":false},"axis":null},"x2":{"datum":17},"y":{"datum":0,"scale":{"domain":[-17.361,101.736],"nice":false,"zero":false},"axis":null},"y2":{"datum":-17.361}}},
   {"data":{"name":"months"},"mark":{"type":"text","angle":90,"align":"left","baseline":"middle","fontSize":12.5,"color":"#111111"},"encoding":{"x":{"field":"m","type":"quantitative","axis":null},"y":{"datum":-1.736,"axis":null},"text":{"field":"lab"}}},
   {"data":{"values":[{}]},"mark":{"type":"rule","color":"#000000","strokeWidth":3},"encoding":{"x":{"datum":9.5,"axis":null},"y":{"datum":0,"axis":null},"y2":{"datum":-10.417}}},
   {"data":{"values":[{}]},"mark":{"type":"text","fontSize":18,"fontWeight":"bold","align":"left","baseline":"alphabetic","text":"2020"},"encoding":{"x":{"datum":0.05,"axis":null},"y":{"datum":-15.625,"axis":null}}},
   {"data":{"values":[{}]},"mark":{"type":"text","fontSize":18,"fontWeight":"bold","align":"left","baseline":"alphabetic","text":"2021"},"encoding":{"x":{"datum":9.75,"axis":null},"y":{"datum":-15.625,"axis":null}}},
   {"data":{"name":"bl"},"transform":[{"stack":"v","groupby":["m"],"sort":[{"field":"s","order":"ascending"}],"as":["lo","hi"]}],
    "mark":{"type":"area","fillOpacity":0.2},
    "encoding":{"x":{"field":"m","type":"quantitative","axis":{"orient":"bottom","offset":-50,"values":[0,1,2,3,4,5,6,7,8,9,10,11,12,13,14,15,16,17],"labels":false,"domain":false,"ticks":true,"tickSize":-5,"tickColor":"#333333","grid":false,"title":null}},
     "y":{"field":"hi","type":"quantitative","axis":{"orient":"left","offset":-57,"values":[0,20,40,60,80,100],"ticks":false,"tickSize":0,"domain":false,"labelPadding":4,"labelFontSize":13,"labelColor":"#222222","grid":false,"title":null}},
     "y2":{"field":"lo"},
     "fill":{"field":"s","type":"nominal","scale":{"domain":["v0","v1","v1x","v2","v3"],"range":["#5e81b5","#e19c24","#8fb032","#eb6235","#8778b3"]}}}},
   {"data":{"name":"bl"},"transform":[{"stack":"v","groupby":["m"],"sort":[{"field":"s","order":"ascending"}],"as":["lo","hi"]}],
    "mark":{"type":"line","strokeWidth":1.3},
    "encoding":{"x":{"field":"m","type":"quantitative","axis":null},"y":{"field":"hi","type":"quantitative","axis":{"orient":"left","offset":-57,"values":[0,20,40,60,80,100],"labels":false,"domain":false,"tickSize":-5,"tickColor":"#333333","grid":false,"title":null}},
     "stroke":{"field":"s","type":"nominal","scale":{"domain":["v0","v1","v1x","v2","v3"],"range":["#5e81b5","#e19c24","#8fb032","#eb6235","#8778b3"]}}}},
   {"data":{"name":"bl"},"mark":{"type":"point","opacity":0},"encoding":{"x":{"field":"m","type":"quantitative","axis":null},"y":{"field":"v","type":"quantitative","axis":{"orient":"left","offset":-57,"values":[0,5,10,15,20,25,30,35,40,45,50,55,60,65,70,75,80,85,90,95,100],"labels":false,"domain":false,"tickSize":-3,"tickColor":"#555555","grid":false,"title":null}}}},
   {"data":{"name":"bl"},"mark":{"type":"point","opacity":0},"encoding":{"x":{"field":"m","type":"quantitative","axis":null},"y":{"field":"v","type":"quantitative","axis":{"orient":"right","offset":-15,"values":[0,20,40,60,80,100],"labels":false,"domain":false,"tickSize":-5,"tickColor":"#333333","grid":false,"title":null}}}},
   {"data":{"name":"bl"},"mark":{"type":"point","opacity":0},"encoding":{"x":{"field":"m","type":"quantitative","axis":null},"y":{"field":"v","type":"quantitative","axis":{"orient":"right","offset":-15,"values":[0,5,10,15,20,25,30,35,40,45,50,55,60,65,70,75,80,85,90,95,100],"labels":false,"domain":false,"tickSize":-3,"tickColor":"#555555","grid":false,"title":null}}}},
   {"data":{"values":[{}]},"mark":{"type":"rect","filled":false,"color":"#333333","strokeWidth":1},"encoding":{"x":{"datum":0,"axis":null},"x2":{"datum":17},"y":{"datum":100,"axis":null},"y2":{"datum":0}}},
   {"data":{"name":"bl_lab"},"mark":{"type":"text","fontSize":27,"fontWeight":"bold","align":"center","baseline":"alphabetic"},
    "encoding":{"x":{"field":"m","type":"quantitative","axis":null},"y":{"field":"v","type":"quantitative","axis":null},"text":{"field":"t"},"color":{"field":"t","type":"nominal","scale":{"domain":["v0","v1","v2","v3"],"range":["#0a4e7e","#ff9000","#ee2010","#951c95"]}}}}
  ]},
 {"width":621,"height":343,
  "resolve":{"axis":{"y":"independent"}},
  "layer":[
   {"data":{"values":[{}]},"mark":{"type":"rect","color":"#d3d3d3"},"encoding":{"x":{"datum":0,"scale":{"domain":[-0.9672,17.234],"nice":false,"zero":false},"axis":null},"x2":{"datum":17},"y":{"datum":0,"scale":{"domain":[-17.014,102.083],"nice":false,"zero":false},"axis":null},"y2":{"datum":-17.014}}},
   {"data":{"name":"months"},"mark":{"type":"text","angle":90,"align":"left","baseline":"middle","fontSize":12.5,"color":"#111111"},"encoding":{"x":{"field":"m","type":"quantitative","axis":null},"y":{"datum":-1.736,"axis":null},"text":{"field":"lab"}}},
   {"data":{"values":[{}]},"mark":{"type":"rule","color":"#000000","strokeWidth":3},"encoding":{"x":{"datum":9.5,"axis":null},"y":{"datum":0,"axis":null},"y2":{"datum":-10.07}}},
   {"data":{"values":[{}]},"mark":{"type":"text","fontSize":18,"fontWeight":"bold","align":"left","baseline":"alphabetic","text":"2020"},"encoding":{"x":{"datum":0.08,"axis":null},"y":{"datum":-15.28,"axis":null}}},
   {"data":{"values":[{}]},"mark":{"type":"text","fontSize":18,"fontWeight":"bold","align":"left","baseline":"alphabetic","text":"2021"},"encoding":{"x":{"datum":9.78,"axis":null},"y":{"datum":-15.28,"axis":null}}},
   {"data":{"name":"br"},"transform":[{"stack":"v","groupby":["m"],"sort":[{"field":"s","order":"ascending"}],"as":["lo","hi"]}],
    "mark":{"type":"area","fillOpacity":0.2},
    "encoding":{"x":{"field":"m","type":"quantitative","axis":{"orient":"bottom","offset":-49,"values":[0,1,2,3,4,5,6,7,8,9,10,11,12,13,14,15,16,17],"labels":false,"domain":false,"ticks":true,"tickSize":-5,"tickColor":"#333333","grid":false,"title":null}},
     "y":{"field":"hi","type":"quantitative","axis":{"orient":"left","offset":-33,"values":[0,20,40,60,80,100],"ticks":false,"tickSize":0,"domain":false,"labelPadding":4,"labelFontSize":13,"labelColor":"#222222","grid":false,"title":null}},
     "y2":{"field":"lo"},
     "fill":{"field":"s","type":"nominal","scale":{"domain":["v0","v1a","v1b","v2","v3a","v3b"],"range":["#5e81b5","#e19c24","#8fb032","#eb6235","#8778b3","#c56e1a"]}}}},
   {"data":{"name":"br"},"transform":[{"stack":"v","groupby":["m"],"sort":[{"field":"s","order":"ascending"}],"as":["lo","hi"]}],
    "mark":{"type":"line","strokeWidth":1.3},
    "encoding":{"x":{"field":"m","type":"quantitative","axis":null},"y":{"field":"hi","type":"quantitative","axis":{"orient":"left","offset":-33,"values":[0,20,40,60,80,100],"labels":false,"domain":false,"tickSize":-5,"tickColor":"#333333","grid":false,"title":null}},
     "stroke":{"field":"s","type":"nominal","scale":{"domain":["v0","v1a","v1b","v2","v3a","v3b"],"range":["#5e81b5","#e19c24","#8fb032","#eb6235","#8778b3","#c56e1a"]}}}},
   {"data":{"name":"br"},"mark":{"type":"point","opacity":0},"encoding":{"x":{"field":"m","type":"quantitative","axis":null},"y":{"field":"v","type":"quantitative","axis":{"orient":"left","offset":-33,"values":[0,5,10,15,20,25,30,35,40,45,50,55,60,65,70,75,80,85,90,95,100],"labels":false,"domain":false,"tickSize":-3,"tickColor":"#555555","grid":false,"title":null}}}},
   {"data":{"name":"br"},"mark":{"type":"point","opacity":0},"encoding":{"x":{"field":"m","type":"quantitative","axis":null},"y":{"field":"v","type":"quantitative","axis":{"orient":"right","offset":-8,"values":[0,20,40,60,80,100],"labels":false,"domain":false,"tickSize":-5,"tickColor":"#333333","grid":false,"title":null}}}},
   {"data":{"name":"br"},"mark":{"type":"point","opacity":0},"encoding":{"x":{"field":"m","type":"quantitative","axis":null},"y":{"field":"v","type":"quantitative","axis":{"orient":"right","offset":-8,"values":[0,5,10,15,20,25,30,35,40,45,50,55,60,65,70,75,80,85,90,95,100],"labels":false,"domain":false,"tickSize":-3,"tickColor":"#555555","grid":false,"title":null}}}},
   {"data":{"values":[{}]},"mark":{"type":"rect","filled":false,"color":"#333333","strokeWidth":1},"encoding":{"x":{"datum":0,"axis":null},"x2":{"datum":17},"y":{"datum":100,"axis":null},"y2":{"datum":0}}},
   {"data":{"name":"br_lab"},"mark":{"type":"text","fontSize":27,"fontWeight":"bold","align":"center","baseline":"alphabetic"},
    "encoding":{"x":{"field":"m","type":"quantitative","axis":null},"y":{"field":"v","type":"quantitative","axis":null},"text":{"field":"t"},"color":{"field":"t","type":"nominal","scale":{"domain":["v0","v1a","v1b","v2","v3a","v3b"],"range":["#0a4e7e","#ff9000","#0d7a0d","#ee2010","#9a27a0","#a8783f"]}}}}
  ]}
],"spacing":0,"bounds":"flush","resolve":{"scale":{"color":"independent","fill":"independent","stroke":"independent","angle":"independent"}}}
]
}
